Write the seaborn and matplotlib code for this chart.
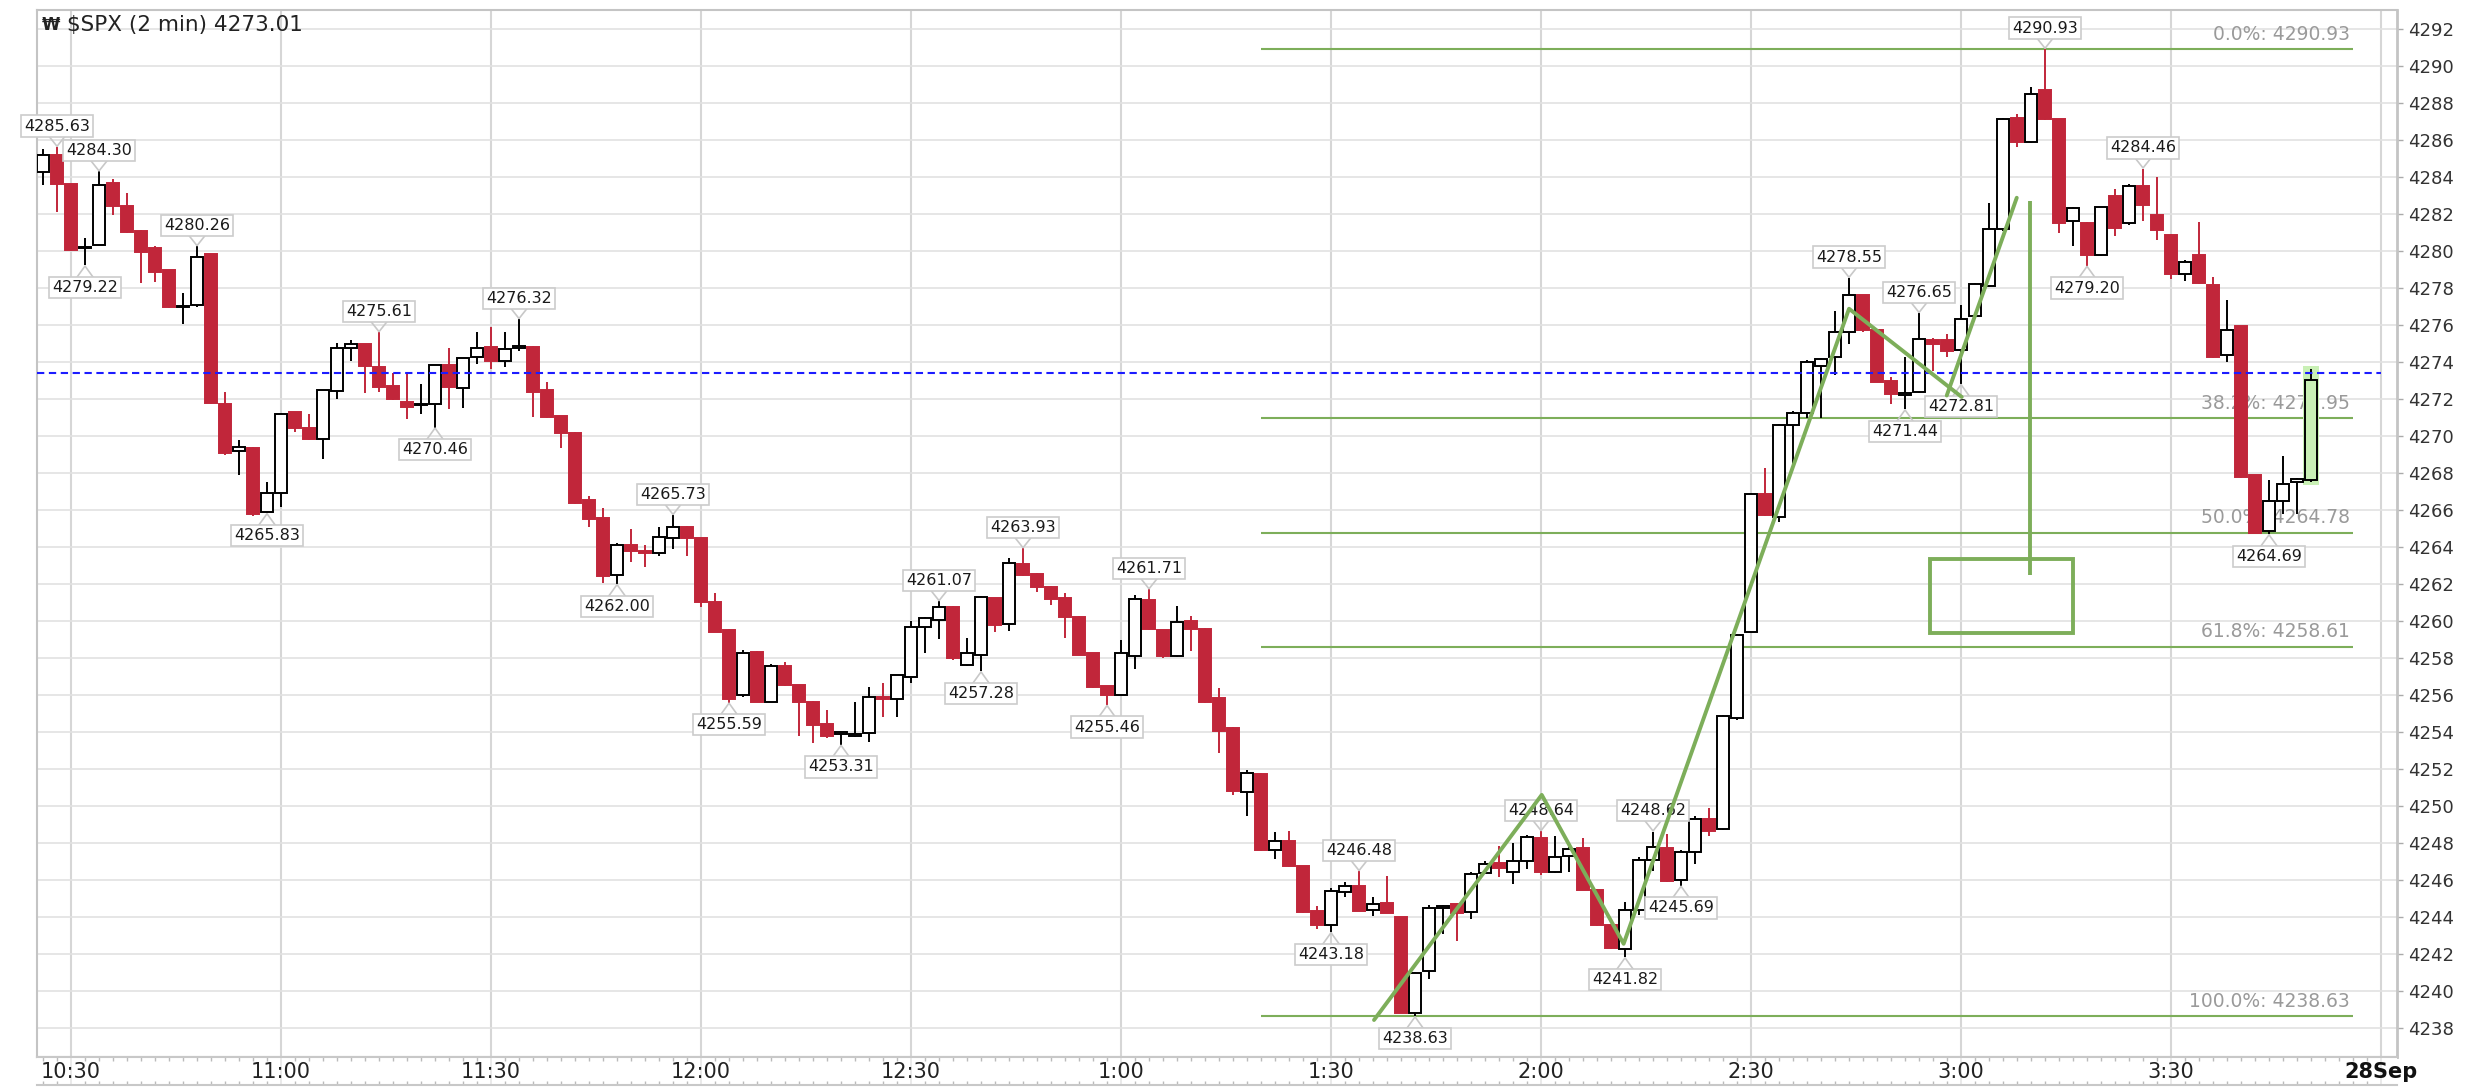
"""
$SPX 2-min candles with fib retracement and trend lines
Run: python plot.py
"""
import numpy as np
import pandas as pd
import matplotlib
matplotlib.use('Agg')
import matplotlib.pyplot as plt
from matplotlib.patches import Rectangle
import seaborn as sns

# ── Candle data (bar 0 = 10:26, one bar per 2 min) ───────────────
opens = [4284.29, 4285.19, 4283.62, 4280.15, 4280.32, 4283.69, 4282.43, 4281.10, 4280.14, 4278.97,
         4276.95, 4277.08, 4279.84, 4271.73, 4269.20, 4269.37, 4265.88, 4266.90, 4271.28, 4270.41,
         4269.82, 4272.45, 4274.74, 4274.97, 4273.75, 4272.70, 4271.85, 4271.65, 4271.73, 4273.84,
         4272.57, 4274.29, 4274.83, 4274.07, 4274.78, 4274.83, 4272.48, 4271.08, 4270.18, 4266.54,
         4265.55, 4262.48, 4264.11, 4263.75, 4263.65, 4264.47, 4265.10, 4264.47, 4261.04, 4259.51,
         4255.99, 4258.34, 4255.64, 4257.56, 4256.54, 4255.64, 4254.43, 4253.90, 4253.80, 4253.92,
         4255.91, 4255.80, 4256.99, 4259.69, 4260.05, 4260.77, 4257.60, 4258.16, 4261.22, 4259.82,
         4263.08, 4262.54, 4261.85, 4261.22, 4260.23, 4258.25, 4256.49, 4256.00, 4258.09, 4261.12,
         4259.51, 4258.09, 4260.00, 4259.57, 4255.85, 4254.22, 4250.75, 4251.75, 4247.60, 4248.12,
         4246.73, 4244.32, 4243.55, 4245.34, 4245.67, 4244.38, 4244.77, 4243.99, 4238.82, 4241.10,
         4244.50, 4244.70, 4244.26, 4246.35, 4246.90, 4246.45, 4247.02, 4248.28, 4246.45, 4247.30,
         4247.74, 4245.48, 4243.55, 4242.26, 4244.36, 4247.06, 4247.73, 4246.00, 4247.50, 4249.30,
         4248.75, 4254.75, 4259.43, 4266.86, 4265.62, 4270.61, 4271.25, 4273.80, 4274.25, 4275.64,
         4277.63, 4275.75, 4273.00, 4272.20, 4272.38, 4275.20, 4275.20, 4274.63, 4276.50, 4278.10,
         4281.19, 4287.20, 4285.88, 4288.70, 4287.12, 4281.64, 4281.50, 4279.77, 4283.00, 4281.49,
         4283.50, 4281.94, 4280.89, 4278.75, 4279.77, 4278.19, 4274.36, 4275.94, 4267.87, 4264.87,
         4266.48, 4267.50, 4267.61]
highs = [4285.50, 4285.63, 4283.65, 4280.68, 4284.30, 4283.87, 4283.15, 4281.15, 4280.27, 4279.00,
         4277.75, 4280.26, 4279.86, 4272.39, 4269.78, 4269.40, 4267.53, 4271.26, 4271.30, 4271.19,
         4272.49, 4275.04, 4275.19, 4275.00, 4275.61, 4273.40, 4273.42, 4272.80, 4273.86, 4274.74,
         4274.22, 4275.64, 4275.90, 4275.60, 4276.32, 4274.86, 4272.93, 4271.10, 4270.20, 4266.75,
         4266.09, 4264.20, 4264.95, 4264.10, 4265.06, 4265.73, 4265.12, 4264.50, 4261.53, 4259.55,
         4258.43, 4258.36, 4257.67, 4257.80, 4256.56, 4255.66, 4255.19, 4253.95, 4255.60, 4256.41,
         4256.63, 4257.10, 4260.00, 4260.20, 4261.07, 4260.80, 4259.06, 4261.35, 4261.25, 4263.39,
         4263.93, 4262.60, 4261.88, 4261.53, 4260.25, 4258.27, 4256.51, 4258.99, 4261.40, 4261.71,
         4259.53, 4260.79, 4260.25, 4259.60, 4256.40, 4254.25, 4251.95, 4251.78, 4248.57, 4248.67,
         4246.75, 4244.57, 4245.58, 4245.87, 4246.48, 4245.10, 4246.19, 4244.01, 4241.00, 4244.65,
         4244.65, 4244.75, 4246.45, 4247.00, 4247.85, 4247.99, 4248.43, 4248.64, 4248.38, 4247.80,
         4248.28, 4245.50, 4243.57, 4244.80, 4247.25, 4248.62, 4248.50, 4247.60, 4249.45, 4249.87,
         4254.90, 4259.30, 4266.90, 4268.25, 4270.65, 4271.35, 4274.10, 4274.20, 4276.76, 4278.55,
         4277.65, 4275.78, 4273.20, 4274.25, 4276.65, 4275.30, 4275.50, 4277.10, 4278.27, 4282.60,
         4287.20, 4287.40, 4288.88, 4290.93, 4287.15, 4282.40, 4281.55, 4282.40, 4283.37, 4283.60,
         4284.46, 4284.00, 4280.92, 4279.50, 4281.57, 4278.57, 4277.36, 4275.96, 4267.90, 4267.60,
         4268.90, 4267.75, 4273.60]
lows = [4283.57, 4282.12, 4280.00, 4279.22, 4280.30, 4281.94, 4280.95, 4278.25, 4278.34, 4276.93,
        4276.05, 4276.95, 4271.74, 4268.97, 4267.89, 4265.67, 4265.83, 4266.14, 4270.23, 4269.80,
        4268.74, 4271.98, 4274.07, 4272.30, 4272.40, 4271.95, 4270.90, 4271.20, 4270.46, 4271.44,
        4271.50, 4273.92, 4273.60, 4273.75, 4274.60, 4271.04, 4271.00, 4269.33, 4266.34, 4265.06,
        4262.03, 4262.00, 4263.20, 4262.90, 4263.50, 4263.87, 4263.50, 4260.74, 4259.40, 4255.59,
        4255.90, 4255.60, 4255.60, 4256.50, 4253.80, 4253.40, 4253.70, 4253.31, 4253.75, 4253.45,
        4254.79, 4254.79, 4256.63, 4258.25, 4259.00, 4257.90, 4257.55, 4257.28, 4259.42, 4259.47,
        4262.45, 4261.58, 4260.86, 4259.10, 4258.14, 4256.39, 4255.46, 4255.98, 4257.39, 4259.50,
        4258.00, 4258.05, 4258.36, 4255.58, 4252.87, 4250.60, 4249.48, 4247.58, 4247.12, 4246.70,
        4244.24, 4243.36, 4243.18, 4245.10, 4244.30, 4244.03, 4244.20, 4238.80, 4238.63, 4240.65,
        4243.10, 4242.68, 4243.88, 4246.30, 4246.15, 4245.80, 4246.58, 4246.25, 4246.40, 4246.45,
        4245.46, 4243.53, 4242.26, 4241.82, 4244.10, 4246.50, 4245.90, 4245.69, 4246.87, 4248.37,
        4248.70, 4254.65, 4259.40, 4265.70, 4265.36, 4268.36, 4271.00, 4271.00, 4273.30, 4275.00,
        4275.60, 4272.92, 4271.74, 4271.44, 4272.30, 4273.50, 4274.25, 4272.81, 4276.45, 4278.05,
        4281.10, 4285.60, 4285.85, 4287.10, 4281.00, 4280.25, 4279.20, 4279.75, 4280.82, 4281.40,
        4281.64, 4280.60, 4278.49, 4278.40, 4278.20, 4274.22, 4274.00, 4267.74, 4264.76, 4264.69,
        4265.80, 4265.80, 4267.50]
closes = [4285.19, 4283.65, 4280.05, 4280.20, 4283.57, 4282.43, 4281.04, 4279.96, 4278.88, 4276.95,
          4276.97, 4279.69, 4271.76, 4269.06, 4269.42, 4265.76, 4266.90, 4271.19, 4270.41, 4269.82,
          4272.47, 4274.74, 4275.00, 4273.80, 4272.63, 4271.98, 4271.58, 4271.72, 4273.84, 4272.63,
          4274.20, 4274.74, 4274.07, 4274.70, 4274.82, 4272.40, 4271.04, 4270.14, 4266.36, 4265.49,
          4262.43, 4264.11, 4263.80, 4263.70, 4264.56, 4265.10, 4264.47, 4261.04, 4259.42, 4255.76,
          4258.29, 4255.64, 4257.56, 4256.54, 4255.64, 4254.38, 4253.78, 4253.92, 4253.85, 4255.91,
          4255.80, 4257.08, 4259.69, 4260.14, 4260.77, 4257.98, 4258.25, 4261.31, 4259.78, 4263.15,
          4262.48, 4261.85, 4261.17, 4260.20, 4258.16, 4256.41, 4256.00, 4258.28, 4261.21, 4259.57,
          4258.09, 4259.96, 4259.57, 4255.60, 4254.07, 4250.79, 4251.79, 4247.60, 4248.09, 4246.73,
          4244.26, 4243.55, 4245.38, 4245.67, 4244.32, 4244.71, 4244.22, 4238.82, 4240.98, 4244.46,
          4244.60, 4244.20, 4246.31, 4246.85, 4246.64, 4247.00, 4248.32, 4246.45, 4247.22, 4247.70,
          4245.48, 4243.55, 4242.30, 4244.36, 4247.06, 4247.80, 4245.93, 4247.50, 4249.30, 4248.63,
          4254.86, 4259.25, 4266.86, 4265.74, 4270.61, 4271.25, 4273.99, 4274.14, 4275.64, 4277.63,
          4275.75, 4272.94, 4272.26, 4272.30, 4275.27, 4274.95, 4274.60, 4276.30, 4278.20, 4281.19,
          4287.12, 4285.88, 4288.50, 4287.12, 4281.49, 4282.30, 4279.77, 4282.39, 4281.27, 4283.50,
          4282.50, 4281.11, 4278.75, 4279.39, 4278.27, 4274.25, 4275.75, 4267.76, 4264.78, 4266.48,
          4267.39, 4267.70, 4273.01]

# price call-outs on swing highs / lows
label_idx = [1, 4, 3, 11, 24, 34, 28, 16, 45, 41, 49, 57, 64, 67, 70, 79, 76, 94, 92, 98,
             107, 115, 113, 117, 129, 134, 133, 137, 143, 150, 146, 159]
label_val = [4285.63, 4284.30, 4279.22, 4280.26, 4275.61, 4276.32, 4270.46, 4265.83, 4265.73, 4262.00,
             4255.59, 4253.31, 4261.07, 4257.28, 4263.93, 4261.71, 4255.46, 4246.48, 4243.18, 4238.63,
             4248.64, 4248.62, 4241.82, 4245.69, 4278.55, 4276.65, 4271.44, 4272.81, 4290.93, 4284.46,
             4279.20, 4264.69]
label_side = ['up', 'up', 'dn', 'up', 'up', 'up', 'dn', 'dn', 'up', 'dn',
              'dn', 'dn', 'up', 'dn', 'up', 'up', 'dn', 'up', 'dn', 'dn',
              'up', 'up', 'dn', 'dn', 'up', 'up', 'dn', 'dn', 'up', 'up',
              'dn', 'dn']

# fibonacci retracement
fib_pct = ['0.0%', '38.2%', '50.0%', '61.8%', '100.0%']
fib_val = [4290.93, 4270.95, 4264.78, 4258.61, 4238.63]

# hand-drawn trend lines (bar index, price)
trend1_x = [95.07, 107.05, 112.9, 129.0, 137.05]
trend1_y = [4238.43, 4250.6, 4242.55, 4276.88, 4272.11]
trend2_x = [135.98, 140.98]
trend2_y = [4272.19, 4282.88]

time_labels = ['10:30', '11:00', '11:30', '12:00', '12:30', '1:00',
               '1:30', '2:00', '2:30', '3:00', '3:30']
last_price = 4273.01
blue_level = 4273.42

RED = '#c1263a'
GREEN = '#7dae5a'
GRID = '#e2e2e2'

df = pd.DataFrame({'open': opens, 'high': highs, 'low': lows, 'close': closes})
df['i'] = np.arange(len(df))
df['up'] = df['close'] >= df['open']

sns.set_style('white')
plt.rcParams['font.family'] = ['DejaVu Sans']

fig = plt.figure(figsize=(24.8, 10.88), dpi=100)
ax = fig.add_axes([37 / 2480, 1 - 1057 / 1088, 2360 / 2480, 1047 / 1088])
ax.set_xlim(-0.43, 168.14)
ax.set_ylim(4236.43, 4293.03)

# ── grid ──────────────────────────────────────────────────────
grid_x = [2 + 15 * k for k in range(11)] + [167]
ax.set_yticks(np.arange(4238, 4293, 2))
ax.set_xticks(grid_x)
ax.grid(axis='y', color=GRID, lw=1.2, zorder=0)
ax.grid(axis='x', color='#d6d6d6', lw=1.5, zorder=0)
ax.set_axisbelow(True)
ax.tick_params(axis='x', length=0, labelbottom=False)
ax.yaxis.tick_right()
ax.tick_params(axis='y', labelsize=13, labelcolor='#333333', color='#aaaaaa',
               length=4, width=1, pad=4)
for s in ax.spines.values():
    s.set_color('#c4c4c4')
    s.set_linewidth(1.5)
ax.spines['right'].set_linewidth(2)

# ── fibonacci levels ──────────────────────────────────────────
for pct, v in zip(fib_pct, fib_val):
    ax.hlines(v, 87.0, 165.0, color=GREEN, lw=1.5, zorder=2)
    ax.text(164.8, v + 0.8, f'{pct}: {v:.2f}', ha='right', va='center',
            fontsize=13.5, color='#9a9a9a', zorder=2)

# ── candles ───────────────────────────────────────────────────
last = len(df) - 1
ax.add_patch(Rectangle((last - 0.6, df['low'][last] - 0.15), 1.2,
                       df['high'][last] - df['low'][last] + 0.35,
                       facecolor='#c9f0b5', edgecolor='none', zorder=2.5))
wick_col = np.where(df['up'], 'black', RED)
ax.vlines(df['i'], df['low'], df['high'], colors=wick_col, lw=1.4, zorder=3)
body_lo = df[['open', 'close']].min(axis=1)
body_h = (df['close'] - df['open']).abs().clip(lower=0.08)
face = np.where(df['up'], 'white', RED)
face[last] = '#c9f0b5'
edge = np.where(df['up'], 'black', RED)
ax.bar(df['i'], body_h, bottom=body_lo, width=0.86, color=face,
       edgecolor=edge, linewidth=1.4, zorder=4)

# last-price dashed line
ax.hlines(blue_level, -0.43, 167, colors='#1c1cff', lw=1.5,
          linestyles=(0, (3.5, 2.2)), zorder=4.5)

# ── price call-outs ───────────────────────────────────────────
for i, v, side in zip(label_idx, label_val, label_side):
    if side == 'up':
        ty, e, tip = v + 1.12, v + 0.6, v + 0.03
    else:
        ty, e, tip = v - 1.2, v - 0.66, v - 0.03
    ax.plot([i - 0.6, i, i + 0.6], [e, tip, e], color='#c8c8c8', lw=1.2, zorder=5)
    ax.text(i, ty, f'{v:.2f}', ha='center', va='center', fontsize=11.5, color='#1a1a1a',
            zorder=5.5, bbox=dict(boxstyle='square,pad=0.2', fc='white',
                                  ec='#cccccc', lw=1.2))

# ── trend lines, target box ───────────────────────────────────
sns.lineplot(x=trend1_x, y=trend1_y, sort=False, estimator=None, color=GREEN,
             lw=2.8, ax=ax, zorder=6)
sns.lineplot(x=trend2_x, y=trend2_y, sort=False, estimator=None, color=GREEN,
             lw=2.8, ax=ax, zorder=6)
ax.vlines(141.93, 4262.51, 4282.69, colors=GREEN, lw=2.8, zorder=6)
ax.add_patch(Rectangle((134.8, 4259.36), 10.2, 4.01, fill=False,
                       edgecolor=GREEN, lw=2.8, zorder=6))

# title
ax.text(0.002, 0.9857, '₩', transform=ax.transAxes, fontsize=12,
        fontweight='bold', va='center', color='#222222')
ax.text(0.0127, 0.9857, r'\$SPX (2 min) ' + f'{last_price:.2f}', transform=ax.transAxes,
        fontsize=15.5, va='center', color='#222222', zorder=7)

# ── time strip under the chart ───────────────────────────────
ax2 = fig.add_axes([37 / 2480, 1 - 1085 / 1088, 2360 / 2480, 28 / 1088])
ax2.set_xlim(ax.get_xlim())
ax2.set_ylim(0, 1)
ax2.set_yticks([])
ax2.set_xticks(grid_x)
ax2.set_xticks(np.arange(0, 168), minor=True)
ax2.tick_params(axis='x', which='both', direction='in', top=True, bottom=True,
                labelbottom=False, color='#bbbbbb')
ax2.tick_params(axis='x', which='major', length=0)
ax2.tick_params(axis='x', which='minor', length=3, width=1)
ax2.grid(axis='x', color='#e6e6e6', lw=1.2)
for s in ax2.spines.values():
    s.set_color('#c8c8c8')
    s.set_linewidth(1.5)
ax2.spines['left'].set_visible(False)
ax2.spines['right'].set_visible(False)
narrow = ['Liberation Sans Narrow', 'DejaVu Sans']
for x, lab in zip(grid_x[:-1], time_labels):
    ax2.text(x, 0.45, lab, ha='center', va='center', fontsize=15,
             family=narrow, color='#222222')
ax2.text(167, 0.45, '28Sep', ha='center', va='center', fontsize=15,
         family=narrow, fontweight='bold', color='#111111')

fig.savefig('out.png', dpi=100)
